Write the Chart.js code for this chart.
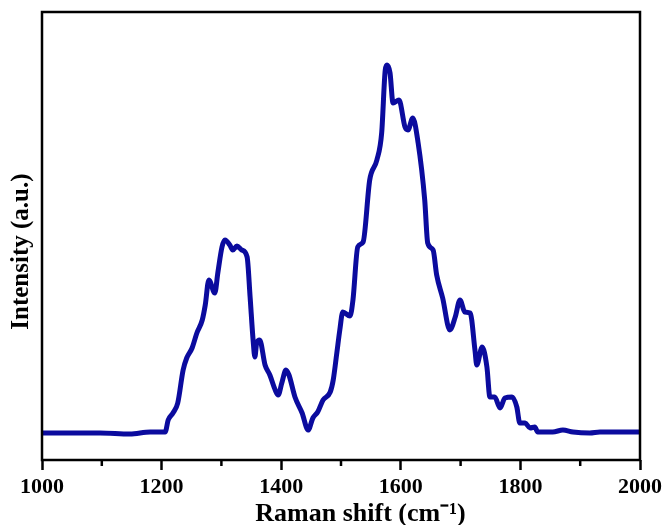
<!DOCTYPE html>
<html>

<head>
    <title>Raman Spectrum</title>
    <script src="https://cdn.jsdelivr.net/npm/chart.js"></script>
    <style>
        body {
            background-color: #ffffff;
            margin: 0;
            padding: 0;
        }

        canvas {
            display: block;
        }
    </style>
</head>

<body>
    <canvas id="ramanChart" width="667" height="525"></canvas>

    <script>
        // Raman shift (cm-1)
        const ramanShift = [1000, 1047, 1097, 1147, 1181, 1206, 1211, 1219, 1227, 1236, 1242, 1251, 1259, 1268, 1273, 1279,
            1289, 1294, 1301, 1306, 1314, 1319, 1326, 1334, 1343, 1348, 1353, 1356, 1359, 1364, 1373, 1381, 1390, 1395,
            1401, 1408, 1413, 1423, 1435, 1445, 1453, 1461, 1470, 1482, 1487, 1493, 1498, 1503, 1515, 1520, 1528, 1537,
            1548, 1560, 1568, 1574, 1577, 1582, 1587, 1597, 1607, 1612, 1620, 1629, 1640, 1645, 1654, 1660, 1670, 1682,
            1691, 1699, 1707, 1716, 1724, 1727, 1736, 1744, 1749, 1757, 1766, 1774, 1786, 1794, 1799, 1808, 1816, 1824,
            1829, 1854, 1871, 1888, 1916, 1933, 1966, 2000];

        // Intensity (a.u.)
        const intensity = [27, 27, 27, 26, 28, 28, 40, 47, 57, 90, 102, 112, 127, 140, 155, 180,
            167, 187, 213, 220, 215, 210, 214, 210, 203, 163, 120, 103, 117, 120, 95, 85, 70, 65,
            77, 90, 85, 63, 47, 30, 42, 48, 60, 68, 80, 107, 130, 148, 144, 160, 213, 218,
            280, 300, 327, 390, 395, 387, 357, 360, 333, 330, 342, 317, 260, 217, 210, 185, 162, 130,
            143, 160, 148, 147, 110, 95, 113, 93, 63, 63, 52, 62, 63, 53, 37, 37, 32, 33,
            28, 28, 30, 28, 27, 28, 28, 28];

        const xTickStep = 200;
        const xTicksMinor = [1100, 1300, 1500, 1700, 1900];

        const serif = '"Liberation Serif", "Times New Roman", serif';

        // box around the plot and the short minor ticks
        const framePlugin = {
            id: 'frame',
            afterDraw(chart) {
                const ctx = chart.ctx;
                const area = chart.chartArea;
                const xScale = chart.scales.x;
                ctx.save();
                ctx.strokeStyle = '#000';
                ctx.lineWidth = 2.5;
                ctx.strokeRect(area.left, area.top, area.right - area.left, area.bottom - area.top);
                xTicksMinor.forEach(function(v) {
                    const px = xScale.getPixelForValue(v);
                    ctx.beginPath();
                    ctx.moveTo(px, area.bottom);
                    ctx.lineTo(px, area.bottom + 6);
                    ctx.stroke();
                });
                ctx.restore();
            }
        };

        const ctx = document.getElementById('ramanChart').getContext('2d');

        const ramanChart = new Chart(ctx, {
            type: 'line',
            data: {
                datasets: [{
                    data: ramanShift.map(function(x, i) {
                        return { x: x, y: intensity[i] };
                    }),
                    borderColor: '#0b0b9e',
                    borderWidth: 5,
                    pointRadius: 0,
                    tension: 0.3,
                    cubicInterpolationMode: 'monotone',
                    borderJoinStyle: 'round',
                    borderCapStyle: 'round',
                    fill: false
                }]
            },
            options: {
                responsive: false,
                animation: false,
                devicePixelRatio: 1,
                layout: {
                    padding: { top: 12, right: 27, left: 0, bottom: 0 }
                },
                plugins: {
                    legend: { display: false },
                    tooltip: { enabled: false }
                },
                scales: {
                    x: {
                        type: 'linear',
                        min: 1000,
                        max: 2000,
                        afterFit: function(scale) {
                            scale.height = 65;
                        },
                        grid: {
                            drawOnChartArea: false,
                            drawTicks: true,
                            tickLength: 10,
                            tickWidth: 2.5,
                            tickColor: '#000'
                        },
                        border: { display: false },
                        ticks: {
                            stepSize: xTickStep,
                            autoSkip: false,
                            color: '#000',
                            padding: 4,
                            maxRotation: 0,
                            callback: function(value) { return String(value); },
                            font: { family: serif, size: 22, weight: 'bold' }
                        },
                        title: {
                            display: true,
                            text: '      Raman shift (cm\u207B\u00B9)',
                            color: '#000',
                            padding: { top: 0, bottom: 0 },
                            font: { family: serif, size: 26, weight: 'bold', lineHeight: 0.8 }
                        }
                    },
                    y: {
                        min: 0,
                        max: 448,
                        afterFit: function(scale) {
                            scale.width = 42;
                        },
                        grid: { display: false },
                        border: { display: false },
                        ticks: { display: false },
                        title: {
                            display: true,
                            text: 'Intensity (a.u.)     ',
                            color: '#000',
                            padding: { top: 7, bottom: 0 },
                            font: { family: serif, size: 25, weight: 'bold', lineHeight: 1.2 }
                        }
                    }
                }
            },
            plugins: [framePlugin]
        });
    </script>
</body>

</html>
